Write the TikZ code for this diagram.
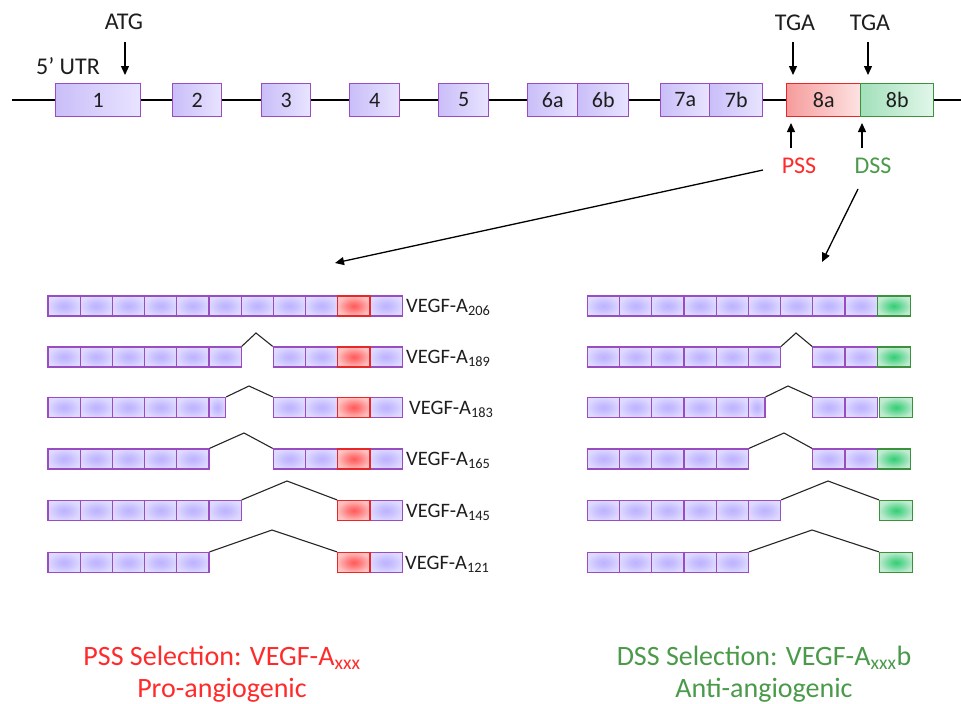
\documentclass[tikz,border=0pt]{standalone}
\usepackage{fontspec}
\setmainfont{Carlito}
\usetikzlibrary{arrows.meta}
\definecolor{exb}{HTML}{9A4CC2}
\definecolor{exL}{HTML}{CABEF8}
\definecolor{exR}{HTML}{E8E4FF}
\definecolor{redb}{HTML}{E82828}
\definecolor{redL}{HTML}{F69C9C}
\definecolor{redR}{HTML}{FDE2E2}
\definecolor{grnb}{HTML}{3C923C}
\definecolor{grnL}{HTML}{A2E0BA}
\definecolor{grnR}{HTML}{E2F6EA}
\definecolor{psstxt}{HTML}{FF2B2B}
\definecolor{dsstxt}{HTML}{4A9A4A}
\definecolor{txt}{HTML}{1E1E1E}
\definecolor{pA}{RGB}{189,179,255}
\definecolor{pB}{RGB}{198,189,255}
\definecolor{pC}{RGB}{222,218,255}
\definecolor{pD}{RGB}{229,226,255}
\definecolor{rA}{RGB}{255,90,90}
\definecolor{rB}{RGB}{255,120,120}
\definecolor{rC}{RGB}{255,192,192}
\definecolor{rD}{RGB}{255,206,206}
\definecolor{gA}{RGB}{52,205,118}
\definecolor{gB}{RGB}{95,215,145}
\definecolor{gC}{RGB}{192,234,208}
\definecolor{gD}{RGB}{206,240,219}
\pgfdeclareradialshading{pcsh}{\pgfpoint{0bp}{0bp}}{%
  color(0bp)=(pA); color(9bp)=(pB); color(26bp)=(pC); color(50bp)=(pD)}
\pgfdeclareradialshading{rcsh}{\pgfpoint{0bp}{0bp}}{%
  color(0bp)=(rA); color(9bp)=(rB); color(26bp)=(rC); color(50bp)=(rD)}
\pgfdeclareradialshading{gcsh}{\pgfpoint{0bp}{0bp}}{%
  color(0bp)=(gA); color(9bp)=(gB); color(26bp)=(gC); color(50bp)=(gD)}
\tikzset{
  exon/.style={draw=exb, line width=1.4pt, left color=exL, right color=exR, minimum height=33pt, inner sep=0pt, anchor=west, text=txt, font=\fontsize{22}{24}\selectfont},
  exred/.style={exon, draw=redb, left color=redL, right color=redR},
  exgrn/.style={exon, draw=grnb, left color=grnL, right color=grnR},
  pc/.style={draw=exb, line width=1.2pt, shading=pcsh, minimum width=32.2pt, minimum height=20pt, inner sep=0pt, anchor=west},
  rc/.style={pc, draw=redb, shading=rcsh},
  gc/.style={pc, draw=grnb, shading=gcsh, minimum width=33pt},
  intron/.style={draw=black!85, line width=1.1pt},
  arr/.style={draw=black, line width=1.3pt, -{Triangle[length=9pt,width=8pt]}},
  toplab/.style={text=txt, font=\fontsize{24}{26}\selectfont},
  vlab/.style={anchor=west, text=txt, font=\fontsize{20.5}{22}\selectfont, inner sep=0pt},
  bottomlab/.style={align=center, font=\fontsize{28}{32}\selectfont}
}
\begin{document}
\begin{tikzpicture}[x=1pt,y=-1pt]
\useasboundingbox[fill=white] (0,0) rectangle (961,704);

% ---------- gene structure ----------
\coordinate (g0) at (12,100);
\coordinate (g1) at (961,100);
\draw[line width=1.2pt] (g0) -- (g1);
\node[exon, minimum width=85pt] (e1) at (55,100) {1};
\node[exon, minimum width=49pt] (e2) at (172,100) {2};
\node[exon, minimum width=49pt] (e3) at (261,100) {3};
\node[exon, minimum width=50pt] (e4) at (349,100) {4};
\node[exon, minimum width=50pt] (e5) at (438,100) {5};
\node[exon, minimum width=50pt] (e6a) at (527,100) {6a};
\node[exon, minimum width=51pt] (e6b) at (577,100) {6b};
\node[exon, minimum width=49pt] (e7a) at (660,100) {7a};
\node[exon, minimum width=53pt] (e7b) at (709,100) {7b};
\node[exred, minimum width=74pt] (e8a) at (786,100) {8a};
\node[exgrn, minimum width=73pt] (e8b) at (860,100) {8b};

\node[toplab] (utr) at (68,66) {5’ UTR};
\node[toplab] (atg) at (124,22) {ATG};
\node[toplab] (tga1) at (795,23) {TGA};
\node[toplab] (tga2) at (870,23) {TGA};
\coordinate (atgS) at (125,42);  \coordinate (atgT) at (125,75);
\coordinate (tga1S) at (793,42); \coordinate (tga1T) at (793,75);
\coordinate (tga2S) at (868,42); \coordinate (tga2T) at (868,75);
\draw[arr] (atgS) -- (atgT);
\draw[arr] (tga1S) -- (tga1T);
\draw[arr] (tga2S) -- (tga2T);

\node[toplab, text=psstxt] (pss) at (799,166) {PSS};
\node[toplab, text=dsstxt] (dss) at (873,166) {DSS};
\coordinate (pssB) at (791,148); \coordinate (pssT) at (791,123);
\coordinate (dssB) at (862,148); \coordinate (dssT) at (862,123);
\draw[arr] (pssB) -- (pssT);
\draw[arr] (dssB) -- (dssT);

\coordinate (pssA) at (763,170); \coordinate (pssZ) at (335,263);
\coordinate (dssA) at (858,189); \coordinate (dssZ) at (822,262);
\draw[arr] (pssA) -- (pssZ);
\draw[arr] (dssA) -- (dssZ);

% ---------- PSS isoforms (left) ----------
% row 1: 206
\foreach \i in {0,...,8,10} \node[pc] (a1-\i) at ({47.3+32.2*\i},306) {};
\node[rc] (a1-9) at ({47.3+32.2*9},306) {};
\node[vlab] (va1) at (406,307) {VEGF-A\textsubscript{206}};
% row 2: 189
\foreach \i in {0,...,5,7,8,10} \node[pc] (a2-\i) at ({47.3+32.2*\i},357) {};
\node[rc] (a2-9) at ({47.3+32.2*9},357) {};
\coordinate (pa2) at (256,333);
\draw[intron] (a2-5.north east) -- (pa2) -- (a2-7.north west);
\node[vlab] (va2) at (406,358) {VEGF-A\textsubscript{189}};
% row 3: 183
\foreach \i in {0,...,4,7,8,10} \node[pc] (a3-\i) at ({47.3+32.2*\i},407.5) {};
\node[pc, minimum width=16.7pt] (a3-5) at ({47.3+32.2*5},407.5) {};
\node[rc] (a3-9) at ({47.3+32.2*9},407.5) {};
\coordinate (pa3) at (249,386);
\draw[intron] (a3-5.north east) -- (pa3) -- (a3-7.north west);
\node[vlab] (va3) at (409,409) {VEGF-A\textsubscript{183}};
% row 4: 165
\foreach \i in {0,...,4,7,8,10} \node[pc] (a4-\i) at ({47.3+32.2*\i},459) {};
\node[rc] (a4-9) at ({47.3+32.2*9},459) {};
\coordinate (pa4) at (244,433);
\draw[intron] (a4-4.north east) -- (pa4) -- (a4-7.north west);
\node[vlab] (va4) at (406,460) {VEGF-A\textsubscript{165}};
% row 5: 145
\foreach \i in {0,...,5,10} \node[pc] (a5-\i) at ({47.3+32.2*\i},510.5) {};
\node[rc] (a5-9) at ({47.3+32.2*9},510.5) {};
\coordinate (pa5) at (287,481);
\draw[intron] (a5-5.north east) -- (pa5) -- (a5-9.north west);
\node[vlab] (va5) at (406,512) {VEGF-A\textsubscript{145}};
% row 6: 121
\foreach \i in {0,...,4,10} \node[pc] (a6-\i) at ({47.3+32.2*\i},562.5) {};
\node[rc] (a6-9) at ({47.3+32.2*9},562.5) {};
\coordinate (pa6) at (272,530);
\draw[intron] (a6-4.north east) -- (pa6) -- (a6-9.north west);
\node[vlab] (va6) at (405,564) {VEGF-A\textsubscript{121}};

% ---------- DSS isoforms (right) ----------
\foreach \i in {0,...,8} \node[pc] (b1-\i) at ({586.7+32.2*\i},306) {};
\node[gc] (b1-9) at (876.7,306) {};
% row 2
\foreach \i in {0,...,5,7,8} \node[pc] (b2-\i) at ({586.7+32.2*\i},357) {};
\node[gc] (b2-9) at (876.7,357) {};
\coordinate (pb2) at (796,333);
\draw[intron] (b2-5.north east) -- (pb2) -- (b2-7.north west);
% row 3
\foreach \i in {0,...,4,7,8} \node[pc] (b3-\i) at ({586.7+32.2*\i},407.5) {};
\node[pc, minimum width=16.7pt] (b3-5) at ({586.7+32.2*5},407.5) {};
\node[gc] (b3-9) at (879,407.5) {};
\coordinate (pb3) at (788,386);
\draw[intron] (b3-5.north east) -- (pb3) -- (b3-7.north west);
% row 4
\foreach \i in {0,...,4,7,8} \node[pc] (b4-\i) at ({586.7+32.2*\i},459) {};
\node[gc] (b4-9) at (876.7,459) {};
\coordinate (pb4) at (784,433);
\draw[intron] (b4-4.north east) -- (pb4) -- (b4-7.north west);
% row 5
\foreach \i in {0,...,5} \node[pc] (b5-\i) at ({586.7+32.2*\i},510.5) {};
\node[gc] (b5-9) at (879,510.5) {};
\coordinate (pb5) at (828,481);
\draw[intron] (b5-5.north east) -- (pb5) -- (b5-9.north west);
% row 6
\foreach \i in {0,...,4} \node[pc] (b6-\i) at ({586.7+32.2*\i},562.5) {};
\node[gc] (b6-9) at (879,562.5) {};
\coordinate (pb6) at (812,530);
\draw[intron] (b6-4.north east) -- (pb6) -- (b6-9.north west);

% ---------- bottom labels ----------
\node[bottomlab, text=psstxt] (psssel) at (222,674) {PSS Selection: VEGF-A\textsubscript{xxx}\\Pro-angiogenic};
\node[bottomlab, text=dsstxt] (dsssel) at (764,674) {DSS Selection: VEGF-A\textsubscript{xxx}b\\Anti-angiogenic};
\end{tikzpicture}
\end{document}
